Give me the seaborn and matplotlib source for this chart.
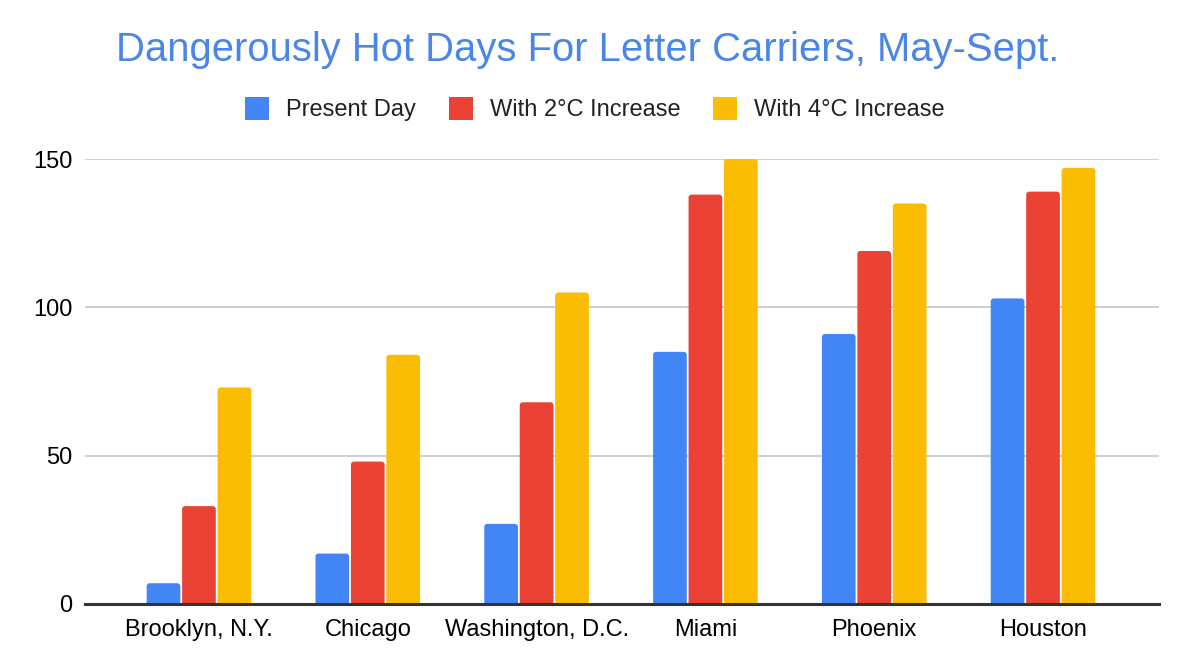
import matplotlib
matplotlib.use("Agg")
import matplotlib.pyplot as plt
import seaborn as sns
import pandas as pd
from matplotlib.patches import Patch, FancyBboxPatch

cities = ["Brooklyn, N.Y.", "Chicago", "Washington, D.C.", "Miami", "Phoenix", "Houston"]
present_day = [7, 17, 27, 85, 91, 103]
with_2c = [33, 48, 68, 138, 119, 139]
with_4c = [73, 84, 105, 150, 135, 147]
series_names = ["Present Day", "With 2°C Increase", "With 4°C Increase"]
colors = ["#4285F4", "#EA4335", "#FBBC04"]
yticks = [0, 50, 100, 150]

rows = []
for name, vals in zip(series_names, [present_day, with_2c, with_4c]):
    for c, v in zip(cities, vals):
        rows.append({"City": c, "Series": name, "Days": v})
df = pd.DataFrame(rows)

sns.set_theme(style="white")
plt.rcParams["font.family"] = ["Liberation Sans", "DejaVu Sans"]

fig = plt.figure(figsize=(11.78, 6.72), dpi=100)
ax = fig.add_axes([85/1178, 1-604/672, (1159-85)/1178, (604-159)/672])

sns.barplot(data=df, x="City", y="Days", hue="Series", order=cities,
            hue_order=series_names, palette=colors, width=0.63, gap=0.05,
            saturation=1, ax=ax, legend=False, edgecolor="none")

ax.set_ylim(0, 150)
ax.set_xlim(-0.675, 5.687)

# rounded bar tops
fig.canvas.draw()
px_x = ax.transData.transform((1, 0))[0] - ax.transData.transform((0, 0))[0]
px_y = ax.transData.transform((0, 1))[1] - ax.transData.transform((0, 0))[1]
r_px = 3.0
aspect = px_x / px_y
for p in list(ax.patches):
    x, y = p.get_x(), p.get_y()
    w, h = p.get_width(), p.get_height()
    fc = p.get_facecolor()
    p.remove()
    ext = r_px / px_y
    fb = FancyBboxPatch((x, y - ext), w, h + ext,
                        boxstyle=f"round,pad=0,rounding_size={r_px/px_x}",
                        mutation_aspect=aspect, facecolor=fc, edgecolor="none",
                        zorder=2, clip_on=True)
    ax.add_patch(fb)

ax.set_yticks(yticks)
ax.set_yticklabels([str(t) for t in yticks])
ax.set_xlabel("")
ax.set_ylabel("")
ax.grid(axis="y", color="#cccccc", linewidth=1.3)
ax.set_axisbelow(True)
for s in ["top", "right", "left"]:
    ax.spines[s].set_visible(False)
ax.spines["bottom"].set_color("#333333")
ax.spines["bottom"].set_linewidth(2.2)
ax.spines["bottom"].set_zorder(5)
ax.tick_params(axis="both", length=0, labelsize=17, colors="#000000")
ax.tick_params(axis="y", pad=9)
ax.tick_params(axis="x", pad=11)

fig.text(588/1178, 1-60.7/672, "Dangerously Hot Days For Letter Carriers, May-Sept.",
         ha="center", va="baseline", color="#4A86E8", fontsize=28.8)

handles = [Patch(facecolor=c, edgecolor="none") for c in colors]
fig.legend(handles, series_names, loc="center", bbox_to_anchor=(595/1178, 1-109/672),
           ncol=3, frameon=False, fontsize=17, handlelength=1.0, handleheight=1.15,
           handletextpad=0.72, columnspacing=1.4, labelcolor="#222222")

fig.savefig("out.png", dpi=100, facecolor="white")
